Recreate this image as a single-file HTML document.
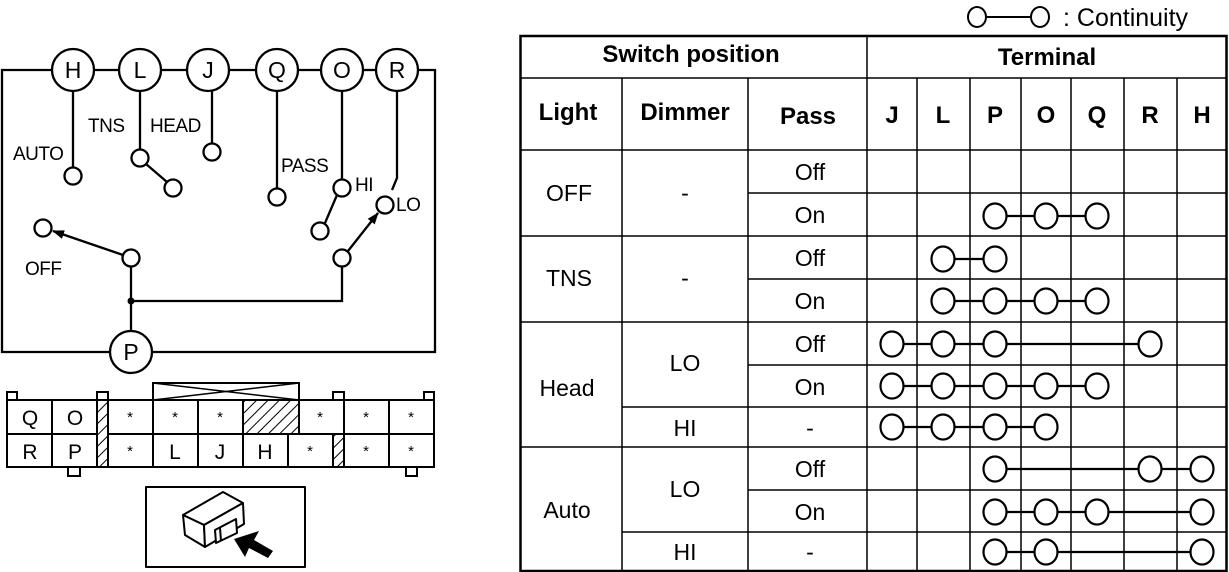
<!DOCTYPE html>
<html><head><meta charset="utf-8"><style>
html,body{margin:0;padding:0;background:#fff;}
svg{display:block;font-family:"Liberation Sans",Arial,sans-serif;}
</style></head><body>
<svg width="1229" height="572" viewBox="0 0 1229 572" xmlns="http://www.w3.org/2000/svg">
<defs>
<marker id="ah" markerWidth="12" markerHeight="9" refX="11" refY="4.5" orient="auto" markerUnits="userSpaceOnUse"><path d="M0,0 L12,4.5 L0,9 Z" fill="#000"/></marker>
<pattern id="hat" width="8" height="8" patternUnits="userSpaceOnUse" patternTransform="rotate(45)"><rect width="8" height="8" fill="#fff"/><line x1="0" y1="0" x2="0" y2="8" stroke="#000" stroke-width="2"/></pattern>
</defs>
<g stroke="#000" stroke-width="2.3" fill="none">
<polyline points="52,70 2,70 2,352 110,352"/>
<polyline points="418,70 435,70 435,352 152,352"/>
<line x1="94" y1="70" x2="119" y2="70"/>
<line x1="161" y1="70" x2="187" y2="70"/>
<line x1="229" y1="70" x2="256" y2="70"/>
<line x1="298" y1="70" x2="321" y2="70"/>
<line x1="363" y1="70" x2="376" y2="70"/>
<circle cx="73" cy="70" r="21" fill="#fff"/>
<circle cx="140" cy="70" r="21" fill="#fff"/>
<circle cx="208" cy="70" r="21" fill="#fff"/>
<circle cx="277" cy="70" r="21" fill="#fff"/>
<circle cx="342" cy="70" r="21" fill="#fff"/>
<circle cx="397" cy="70" r="21" fill="#fff"/>
<circle cx="131" cy="352" r="21" fill="#fff"/>
<line x1="73" y1="91" x2="73" y2="168"/>
<line x1="140" y1="91" x2="140" y2="150"/>
<line x1="212" y1="91" x2="212" y2="144"/>
<line x1="277" y1="91" x2="277" y2="189"/>
<line x1="342" y1="91" x2="342" y2="180"/>
<polyline points="397,91 397,178 392,190"/>
<line x1="146" y1="164" x2="167" y2="182"/>
<line x1="337" y1="195" x2="325" y2="223"/>
<circle cx="73" cy="176" r="8.5" fill="#fff"/>
<circle cx="140" cy="158" r="8.5" fill="#fff"/>
<circle cx="173" cy="188" r="8.5" fill="#fff"/>
<circle cx="212" cy="152" r="8.5" fill="#fff"/>
<circle cx="277" cy="197" r="8.5" fill="#fff"/>
<circle cx="342" cy="188" r="8.5" fill="#fff"/>
<circle cx="320" cy="231" r="8.5" fill="#fff"/>
<circle cx="385" cy="205" r="8.5" fill="#fff"/>
<circle cx="43" cy="228" r="8.5" fill="#fff"/>
<circle cx="131" cy="258" r="8.5" fill="#fff"/>
<circle cx="342" cy="258" r="8.5" fill="#fff"/>
<line x1="123" y1="255" x2="53" y2="231" marker-end="url(#ah)"/>
<line x1="348" y1="251" x2="378" y2="213" marker-end="url(#ah)"/>
<polyline points="131,267 131,331"/>
<polyline points="131,301 342,301 342,267"/>
</g>
<circle cx="131" cy="301" r="3.5" fill="#000"/>
<g font-size="23" text-anchor="middle" fill="#000">
<text x="73" y="78">H</text><text x="140" y="78">L</text><text x="208" y="78">J</text>
<text x="277" y="78">Q</text><text x="342" y="78">O</text><text x="397" y="78">R</text>
<text x="131" y="360">P</text>
</g>
<g font-size="19" fill="#000" letter-spacing="-0.5">
<text x="13" y="160">AUTO</text><text x="88" y="132">TNS</text><text x="150" y="132">HEAD</text>
<text x="281" y="172">PASS</text><text x="355" y="191">HI</text><text x="396" y="211">LO</text>
<text x="25" y="275">OFF</text>
</g>
<g stroke="#000" stroke-width="2" fill="#fff">
<rect x="153" y="383" width="146" height="17"/>
<line x1="153" y1="383" x2="299" y2="400" stroke-width="1.5"/>
<line x1="299" y1="383" x2="153" y2="400" stroke-width="1.5"/>
<rect x="7" y="392" width="10" height="8"/>
<rect x="97" y="392" width="11" height="8"/>
<rect x="333" y="392" width="11" height="8"/>
<rect x="424" y="392" width="10" height="8"/>
<rect x="68" y="467" width="12" height="9"/>
<rect x="406" y="467" width="11" height="9"/>
<rect x="7" y="400" width="427" height="67"/>
<line x1="7" y1="434" x2="434" y2="434"/>
<line x1="52" y1="400" x2="52" y2="467"/>
<rect x="97" y="400" width="11" height="67" fill="url(#hat)"/>
<line x1="153" y1="400" x2="153" y2="467"/>
<line x1="198" y1="400" x2="198" y2="467"/>
<rect x="243" y="400" width="56" height="34" fill="url(#hat)"/>
<line x1="243" y1="434" x2="243" y2="467"/>
<line x1="288" y1="434" x2="288" y2="467"/>
<line x1="344" y1="400" x2="344" y2="434"/>
<rect x="333" y="434" width="11" height="33" fill="url(#hat)"/>
<line x1="389" y1="400" x2="389" y2="467"/>
</g>
<g font-size="21" text-anchor="middle" fill="#000">
<text x="30" y="425">Q</text><text x="75" y="425">O</text>
<text x="30" y="459">R</text><text x="75" y="459">P</text>
<text x="175" y="459">L</text><text x="220" y="459">J</text><text x="265" y="459">H</text>
</g>
<g font-size="15" text-anchor="middle" fill="#000">
<text x="130" y="422">*</text><text x="175" y="422">*</text><text x="220" y="422">*</text>
<text x="320" y="422">*</text><text x="366" y="422">*</text><text x="411" y="422">*</text>
<text x="130" y="456">*</text><text x="310" y="456">*</text><text x="366" y="456">*</text><text x="411" y="456">*</text>
</g>
<g stroke="#000" stroke-width="2" fill="#fff" stroke-linejoin="round">
<rect x="146" y="487" width="159" height="80"/>
<path d="M183,515 L223,492 L243,503 L204,525 Z"/>
<path d="M183,515 L185,535 L205,547 L204,525 Z"/>
<path d="M204,525 L243,503 L244,524 L205,547 Z"/>
<path d="M215,530 L236,519 L237,533 L216,543 Z"/>
<line x1="220" y1="528" x2="221" y2="541"/>
</g>
<path d="M234,539 L259,531 L254,540 L273,551 L268,558 L249,548 L245,557 Z" fill="#000"/>
<g stroke="#000" stroke-width="2" fill="#fff">
<line x1="978" y1="17" x2="1032" y2="17"/>
<ellipse cx="977" cy="17" rx="9" ry="10"/>
<ellipse cx="1040" cy="17" rx="9" ry="10"/>
</g>
<text x="1063" y="26" font-size="25" fill="#000">: Continuity</text>
<g stroke="#000" stroke-width="1.5" fill="none">
<rect x="520.5" y="36" width="706" height="535" stroke-width="2.5"/>
<line x1="520" y1="78" x2="1227" y2="78"/>
<line x1="520" y1="150" x2="1227" y2="150"/>
<line x1="867" y1="36" x2="867" y2="571"/>
<line x1="622" y1="78" x2="622" y2="571"/>
<line x1="748" y1="78" x2="748" y2="571"/>
<line x1="917" y1="78" x2="917" y2="571"/>
<line x1="970" y1="78" x2="970" y2="571"/>
<line x1="1021" y1="78" x2="1021" y2="571"/>
<line x1="1071" y1="78" x2="1071" y2="571"/>
<line x1="1124" y1="78" x2="1124" y2="571"/>
<line x1="1177" y1="78" x2="1177" y2="571"/>
<line x1="748" y1="193" x2="1227" y2="193"/>
<line x1="520" y1="236" x2="1227" y2="236"/>
<line x1="748" y1="279" x2="1227" y2="279"/>
<line x1="520" y1="322" x2="1227" y2="322"/>
<line x1="748" y1="365" x2="1227" y2="365"/>
<line x1="622" y1="407" x2="1227" y2="407"/>
<line x1="520" y1="447" x2="1227" y2="447"/>
<line x1="748" y1="490" x2="1227" y2="490"/>
<line x1="622" y1="532" x2="1227" y2="532"/>
</g>
<g font-size="24" font-weight="bold" text-anchor="middle" fill="#000">
<text x="691" y="62">Switch position</text>
<text x="1047" y="65">Terminal</text>
<text x="568" y="120">Light</text>
<text x="685" y="120">Dimmer</text>
<text x="808" y="124">Pass</text>
<text x="892" y="123">J</text><text x="943" y="123">L</text><text x="995" y="123">P</text>
<text x="1046" y="123">O</text><text x="1097" y="123">Q</text><text x="1150" y="123">R</text><text x="1202" y="123">H</text>
</g>
<g font-size="23" text-anchor="middle" fill="#000">
<text x="569" y="201">OFF</text><text x="685" y="201">-</text>
<text x="569" y="286">TNS</text><text x="685" y="286">-</text>
<text x="567" y="396">Head</text><text x="685" y="371">LO</text><text x="685" y="436">HI</text>
<text x="567" y="518">Auto</text><text x="685" y="497">LO</text><text x="685" y="560">HI</text>
<text x="810" y="180">Off</text><text x="810" y="223">On</text>
<text x="810" y="266">Off</text><text x="810" y="309">On</text>
<text x="810" y="352">Off</text><text x="810" y="395">On</text><text x="810" y="436">-</text>
<text x="810" y="477">Off</text><text x="810" y="520">On</text><text x="810" y="560">-</text>
</g>
<g stroke="#000" stroke-width="2.2" fill="#fff">
<line x1="995" y1="216" x2="1097" y2="216"/>
<ellipse cx="995" cy="216" rx="11.5" ry="12.5"/><ellipse cx="1046" cy="216" rx="11.5" ry="12.5"/><ellipse cx="1097" cy="216" rx="11.5" ry="12.5"/>
<line x1="943" y1="259" x2="995" y2="259"/>
<ellipse cx="943" cy="259" rx="11.5" ry="12.5"/><ellipse cx="995" cy="259" rx="11.5" ry="12.5"/>
<line x1="943" y1="301" x2="1097" y2="301"/>
<ellipse cx="943" cy="301" rx="11.5" ry="12.5"/><ellipse cx="995" cy="301" rx="11.5" ry="12.5"/><ellipse cx="1046" cy="301" rx="11.5" ry="12.5"/><ellipse cx="1097" cy="301" rx="11.5" ry="12.5"/>
<line x1="892" y1="344" x2="1150" y2="344"/>
<ellipse cx="892" cy="344" rx="11.5" ry="12.5"/><ellipse cx="943" cy="344" rx="11.5" ry="12.5"/><ellipse cx="995" cy="344" rx="11.5" ry="12.5"/><ellipse cx="1150" cy="344" rx="11.5" ry="12.5"/>
<line x1="892" y1="386" x2="1097" y2="386"/>
<ellipse cx="892" cy="386" rx="11.5" ry="12.5"/><ellipse cx="943" cy="386" rx="11.5" ry="12.5"/><ellipse cx="995" cy="386" rx="11.5" ry="12.5"/><ellipse cx="1046" cy="386" rx="11.5" ry="12.5"/><ellipse cx="1097" cy="386" rx="11.5" ry="12.5"/>
<line x1="892" y1="427" x2="1046" y2="427"/>
<ellipse cx="892" cy="427" rx="11.5" ry="12.5"/><ellipse cx="943" cy="427" rx="11.5" ry="12.5"/><ellipse cx="995" cy="427" rx="11.5" ry="12.5"/><ellipse cx="1046" cy="427" rx="11.5" ry="12.5"/>
<line x1="995" y1="469" x2="1202" y2="469"/>
<ellipse cx="995" cy="469" rx="11.5" ry="12.5"/><ellipse cx="1150" cy="469" rx="11.5" ry="12.5"/><ellipse cx="1202" cy="469" rx="11.5" ry="12.5"/>
<line x1="995" y1="512" x2="1202" y2="512"/>
<ellipse cx="995" cy="512" rx="11.5" ry="12.5"/><ellipse cx="1046" cy="512" rx="11.5" ry="12.5"/><ellipse cx="1097" cy="512" rx="11.5" ry="12.5"/><ellipse cx="1202" cy="512" rx="11.5" ry="12.5"/>
<line x1="995" y1="552" x2="1202" y2="552"/>
<ellipse cx="995" cy="552" rx="11.5" ry="12.5"/><ellipse cx="1046" cy="552" rx="11.5" ry="12.5"/><ellipse cx="1202" cy="552" rx="11.5" ry="12.5"/>
</g>
</svg>
</body></html>
